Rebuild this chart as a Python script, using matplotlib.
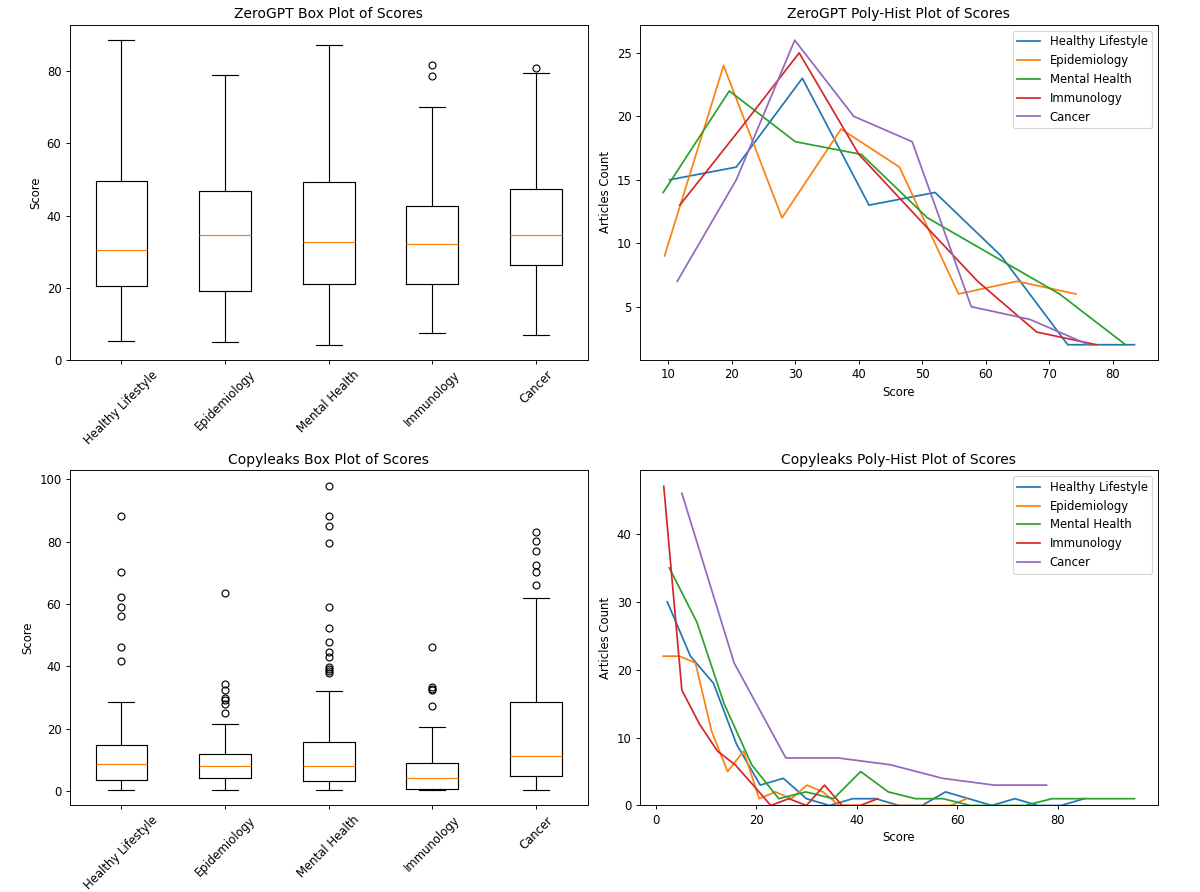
import matplotlib
matplotlib.use("Agg")
import matplotlib.pyplot as plt

topics = ['Healthy Lifestyle', 'Epidemiology', 'Mental Health', 'Immunology', 'Cancer']

# ZeroGPT box plot stats
zg_whislo = [5.2, 5.0, 4.2, 7.5, 7.0]
zg_q1 = [20.6, 19.2, 20.9, 20.9, 26.2]
zg_med = [30.4, 34.5, 32.7, 32.2, 34.7]
zg_q3 = [49.5, 46.8, 49.3, 42.7, 47.4]
zg_whishi = [88.6, 78.9, 87.4, 70.2, 79.6]
zg_fliers = [[], [], [], [81.8, 78.6], [80.9]]

# Copyleaks box plot stats
cl_whislo = [0.2, 0.2, 0.2, 0.3, 0.2]
cl_q1 = [3.5, 4.2, 3.1, 0.6, 4.9]
cl_med = [8.6, 7.9, 7.9, 4.0, 11.3]
cl_q3 = [14.8, 11.8, 15.8, 8.9, 28.7]
cl_whishi = [28.6, 21.4, 32.0, 20.6, 62.1]
cl_fliers = [
    [88.4, 70.3, 62.4, 58.9, 56.2, 46.3, 41.6],
    [63.7, 34.3, 32.5, 29.8, 29.3, 27.9, 25.1],
    [98.0, 88.4, 85.0, 79.6, 58.9, 52.2, 47.7, 44.7, 43.1, 39.9, 39.1, 38.4, 37.7],
    [46.3, 33.5, 32.7, 32.4, 27.2],
    [83.1, 80.4, 77.0, 72.6, 70.2, 66.0],
]

# ZeroGPT poly-hist: bin centres and counts
zg_x = [
    [10.2, 20.7, 31.1, 41.6, 52.0, 62.4, 72.9, 83.4],
    [9.4, 18.7, 27.9, 37.2, 46.4, 55.7, 64.9, 74.2],
    [9.2, 19.6, 30.0, 40.4, 50.8, 61.2, 71.6, 82.0],
    [11.8, 21.3, 30.6, 40.0, 49.3, 58.7, 68.0, 77.4],
    [11.4, 20.7, 29.9, 39.2, 48.4, 57.7, 66.9, 76.2],
]
zg_counts = [
    [15, 16, 23, 13, 14, 9, 2, 2],
    [9, 24, 12, 19, 16, 6, 7, 6],
    [14, 22, 18, 17, 12, 9, 6, 2],
    [13, 19, 25, 17, 12, 7, 3, 2],
    [7, 15, 26, 20, 18, 5, 4, 2],
]

# Copyleaks poly-hist: bin centres and counts
cl_x = [
    [2.3, 6.9, 11.5, 16.1, 20.8, 25.4, 30.0, 34.6, 39.2, 43.8, 48.4, 53.0,
     57.7, 62.3, 66.9, 71.5, 76.1, 80.7, 85.3],
    [1.5, 4.7, 7.9, 11.1, 14.3, 17.5, 20.6, 23.8, 27.0, 30.1, 33.3, 36.5,
     39.7, 42.9, 46.0, 49.2, 52.4, 55.6, 58.7, 61.9],
    [2.7, 8.2, 13.6, 19.1, 24.5, 29.9, 35.4, 40.8, 46.3, 51.7, 57.2, 62.6,
     68.1, 73.5, 78.9, 84.4, 89.8, 95.3],
    [1.6, 5.2, 8.7, 12.3, 15.8, 19.4, 22.9, 26.5, 30.0, 33.6, 37.1, 40.7, 44.2],
    [5.2, 15.6, 25.9, 36.3, 46.7, 57.1, 67.4, 77.8],
]
cl_counts = [
    [30, 22, 18, 9, 3, 4, 1, 0, 1, 1, 0, 0, 2, 1, 0, 1, 0, 0, 1],
    [22, 22, 21, 11, 5, 8, 1, 2, 1, 3, 2, 0, 0, 0, 0, 0, 0, 0, 0, 1],
    [35, 27, 15, 6, 1, 2, 1, 5, 2, 1, 1, 0, 0, 0, 1, 1, 1, 1],
    [47, 17, 12, 8, 6, 3, 0, 1, 0, 3, 0, 0, 1],
    [46, 21, 7, 7, 6, 4, 3, 3],
]


def box_stats(lo, q1, med, q3, hi, fliers):
    stats = []
    for i in range(len(topics)):
        stats.append({'whislo': lo[i], 'q1': q1[i], 'med': med[i], 'q3': q3[i],
                      'whishi': hi[i], 'fliers': fliers[i], 'label': topics[i]})
    return stats


# drawn on a larger canvas at lower dpi, like the original figure
fig, axes = plt.subplots(2, 2, figsize=(14.4, 10.704), dpi=1200 / 14.4)

# ZeroGPT box plot
ax = axes[0, 0]
ax.bxp(box_stats(zg_whislo, zg_q1, zg_med, zg_q3, zg_whishi, zg_fliers))
ax.set_title('ZeroGPT Box Plot of Scores')
ax.set_ylabel('Score')
ax.tick_params(axis='x', labelrotation=45)

# ZeroGPT poly-hist
ax = axes[0, 1]
for i, name in enumerate(topics):
    ax.plot(zg_x[i], zg_counts[i], label=name)
ax.set_title('ZeroGPT Poly-Hist Plot of Scores')
ax.set_xlabel('Score')
ax.set_ylabel('Articles Count')
ax.legend(loc='upper right')

# Copyleaks box plot
ax = axes[1, 0]
ax.bxp(box_stats(cl_whislo, cl_q1, cl_med, cl_q3, cl_whishi, cl_fliers))
ax.set_title('Copyleaks Box Plot of Scores')
ax.set_ylabel('Score')
ax.tick_params(axis='x', labelrotation=45)

# Copyleaks poly-hist
ax = axes[1, 1]
for i, name in enumerate(topics):
    ax.plot(cl_x[i], cl_counts[i], label=name)
ax.set_title('Copyleaks Poly-Hist Plot of Scores')
ax.set_xlabel('Score')
ax.set_ylabel('Articles Count')
ax.set_ylim(bottom=0)
ax.legend(loc='upper right')

fig.subplots_adjust(left=0.058, right=0.965, top=0.972, bottom=0.097,
                    wspace=0.1, hspace=0.33)
fig.savefig('out.png')
